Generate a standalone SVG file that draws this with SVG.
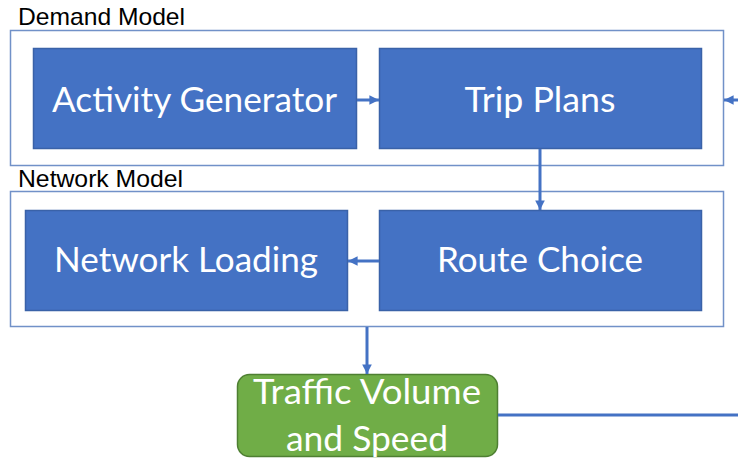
<svg xmlns="http://www.w3.org/2000/svg" width="738" height="460" viewBox="0 0 738 460">
  <style>
    .frame { fill: #ffffff; stroke: #7191C8; stroke-width: 1.5; }
    .frame-label { font-family: "Liberation Sans", Arial, sans-serif; font-size: 24px; fill: #000000; }
    .step { fill: #4472C4; stroke: #3A62A8; stroke-width: 1.5; }
    .result { fill: #70AD47; stroke: #4E7F32; stroke-width: 1.5; }
    .step-text { font-family: Lato, "Open Sans", sans-serif; font-size: 34px; fill: #ffffff; text-anchor: middle; }
    .link { fill: none; stroke: #4472C4; stroke-width: 3; }
  </style>
  <defs>
    <marker id="head" viewBox="0 0 10 10" refX="10" refY="5" markerWidth="3.2" markerHeight="3.2" orient="auto" markerUnits="strokeWidth">
      <path d="M0,0 L10,5 L0,10 z" fill="#4472C4"/>
    </marker>
  </defs>

  <rect width="738" height="460" fill="#ffffff"/>

  <!-- Demand model frame -->
  <g id="demand-model">
    <rect class="frame" x="10.5" y="30.5" width="713" height="135"/>
    <text class="frame-label" x="18" y="25" textLength="167" lengthAdjust="spacingAndGlyphs">Demand Model</text>
  </g>

  <!-- Network model frame -->
  <g id="network-model">
    <rect class="frame" x="10.5" y="191.5" width="713" height="135"/>
    <text class="frame-label" x="18" y="187" textLength="165" lengthAdjust="spacingAndGlyphs">Network Model</text>
  </g>

  <g id="activity-generator">
    <rect class="step" x="33.5" y="48.5" width="323" height="100"/>
    <text class="step-text" x="194.5" y="111.5" textLength="285" lengthAdjust="spacingAndGlyphs">Activity Generator</text>
  </g>

  <g id="trip-plans">
    <rect class="step" x="379.5" y="48.5" width="322" height="100"/>
    <text class="step-text" x="540" y="111.5" textLength="151" lengthAdjust="spacingAndGlyphs">Trip Plans</text>
  </g>

  <g id="network-loading">
    <rect class="step" x="25.5" y="210.5" width="322" height="100"/>
    <text class="step-text" x="186" y="271.5" textLength="264" lengthAdjust="spacingAndGlyphs">Network Loading</text>
  </g>

  <g id="route-choice">
    <rect class="step" x="379.5" y="210.5" width="322" height="100"/>
    <text class="step-text" x="540" y="271.5" textLength="206" lengthAdjust="spacingAndGlyphs">Route Choice</text>
  </g>

  <g id="traffic-volume">
    <rect class="result" x="237.5" y="374.5" width="260" height="82" rx="12" ry="12"/>
    <text class="step-text" x="367" y="404" textLength="228" lengthAdjust="spacingAndGlyphs">Traffic Volume</text>
    <text class="step-text" x="367" y="450.5" textLength="162" lengthAdjust="spacingAndGlyphs">and Speed</text>
  </g>

  <!-- connectors -->
  <g id="connectors">
    <line class="link" x1="357" y1="100" x2="379" y2="100" marker-end="url(#head)"/>
    <line class="link" x1="540" y1="149" x2="540" y2="210" marker-end="url(#head)"/>
    <line class="link" x1="379" y1="261" x2="348" y2="261" marker-end="url(#head)"/>
    <line class="link" x1="367" y1="327" x2="367" y2="374" marker-end="url(#head)"/>
    <line class="link" x1="498" y1="415" x2="738" y2="415"/>
    <line class="link" x1="740" y1="100" x2="724" y2="100" marker-end="url(#head)"/>
  </g>
</svg>
